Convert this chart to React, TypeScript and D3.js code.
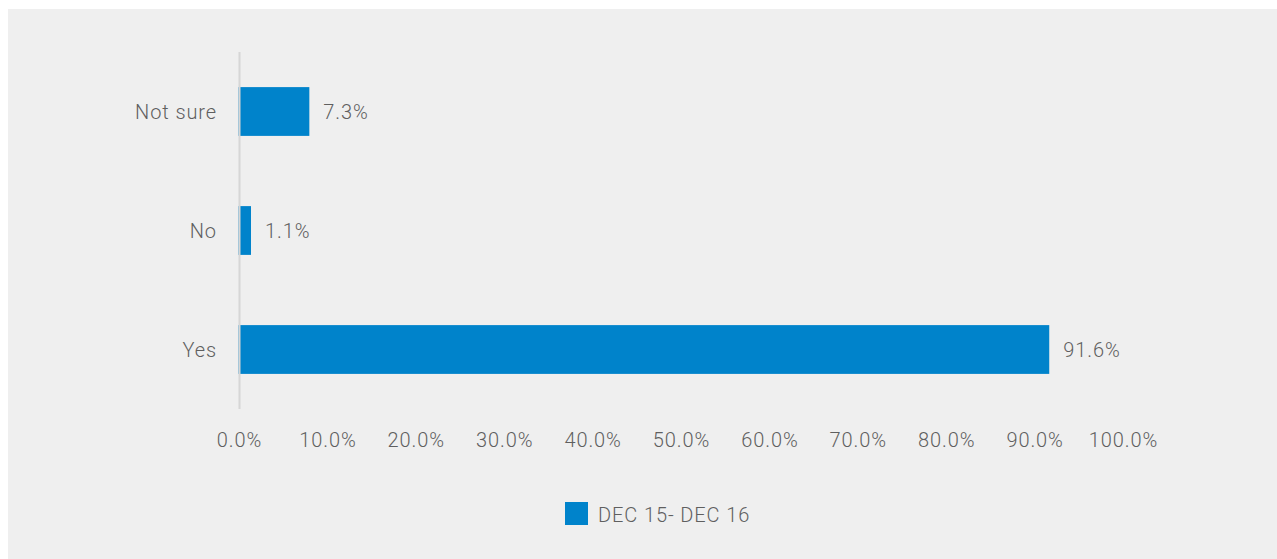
import React from "react";
import * as d3 from "d3";

const categories = ["Not sure", "No", "Yes"];
const values = [7.9, 1.3, 91.6];
const valueLabels = ["7.3%", "1.1%", "91.6%"];
const ticks = [0, 10, 20, 30, 40, 50, 60, 70, 80, 90, 100];
const seriesName = "DEC 15- DEC 16";

const W = 1277;
const H = 559;
const BLUE = "#0083cb";
const TEXT = "#5f5f5f";
const FONT = "Roboto, 'Noto Sans', sans-serif";
const LS = 0.9;

export default function App() {
  const x = d3.scaleLinear().domain([0, 100]).range([239.5, 1123.5]);
  const y = d3.scaleBand().domain(categories).range([52, 409]).paddingInner(0.59).paddingOuter(0.295);
  return (
    <div style={{ position: "absolute", left: 0, top: 0 }}>
      <svg width={W} height={H} style={{ display: "block" }}>
        <rect x={8} y={9} width={W - 8} height={H - 9} fill="#efefef" />
        {categories.map((c, i) => (
          <g key={c}>
            <rect x={x(0) - 1} y={y(c)!} width={x(values[i]) - x(0) + 1} height={y.bandwidth()} fill={BLUE} />
            <text x={217} y={y(c)! + y.bandwidth() / 2} dy="0.35em" textAnchor="end" fontFamily={FONT} fontWeight={300} fontSize={20} fill={TEXT} letterSpacing={LS}>{c}</text>
            <text x={x(values[i]) + 14} y={y(c)! + y.bandwidth() / 2} dy="0.35em" textAnchor="start" fontFamily={FONT} fontWeight={300} fontSize={20} fill={TEXT} letterSpacing={LS}>{valueLabels[i]}</text>
          </g>
        ))}
        <line x1={x(0)} x2={x(0)} y1={52} y2={409} stroke="#d6d6d6" strokeWidth={2} />
        {ticks.map((t) => (
          <text key={t} x={x(t)} y={447} textAnchor="middle" fontFamily={FONT} fontWeight={300} fontSize={20} fill={TEXT} letterSpacing={LS}>{d3.format(".1f")(t) + "%"}</text>
        ))}
        <rect x={565} y={502} width={23} height={23} fill={BLUE} />
        <text x={598} y={522} fontFamily={FONT} fontWeight={300} fontSize={20} fill={TEXT} letterSpacing={LS}>{seriesName}</text>
      </svg>
    </div>
  );
}
